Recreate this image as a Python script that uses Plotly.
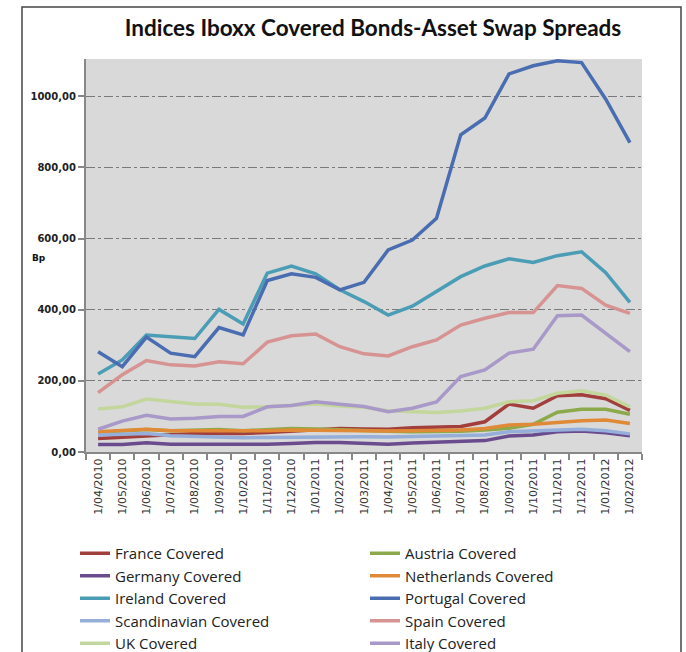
import plotly.graph_objects as go

dates = ["1/04/2010", "1/05/2010", "1/06/2010", "1/07/2010", "1/08/2010", "1/09/2010",
         "1/10/2010", "1/11/2010", "1/12/2010", "1/01/2011", "1/02/2011", "1/03/2011",
         "1/04/2011", "1/05/2011", "1/06/2011", "1/07/2011", "1/08/2011", "1/09/2011",
         "1/10/2011", "1/11/2011", "1/12/2011", "1/01/2012", "1/02/2012"]

france = [38, 42, 46, 50, 52, 53, 52, 55, 58, 62, 66, 65, 64, 68, 70, 72, 85, 135, 123, 158, 161, 150, 117]
austria = [55, 58, 63, 60, 62, 63, 60, 64, 66, 65, 62, 60, 58, 57, 57, 58, 62, 67, 78, 112, 120, 120, 106]
germany = [21, 21, 26, 22, 22, 22, 20, 22, 24, 27, 27, 24, 22, 25, 27, 30, 32, 45, 48, 57, 59, 54, 46]
netherlands = [57, 60, 64, 60, 60, 59, 58, 60, 62, 61, 62, 60, 59, 60, 61, 62, 66, 76, 78, 84, 88, 90, 80]
ireland = [219, 259, 329, 324, 319, 401, 360, 503, 523, 501, 456, 423, 385, 410, 451, 493, 523, 543, 533, 552, 563, 504, 421]
portugal = [282, 240, 323, 278, 268, 350, 329, 482, 501, 491, 456, 477, 568, 596, 657, 892, 939, 1063, 1086, 1100, 1095, 992, 870]
scandinavian = [48, 50, 52, 46, 44, 43, 40, 41, 42, 42, 42, 43, 42, 43, 44, 45, 48, 57, 59, 62, 64, 60, 51]
spain = [167, 217, 257, 245, 242, 254, 248, 309, 327, 332, 296, 276, 270, 296, 315, 357, 376, 392, 392, 468, 460, 413, 390]
uk = [121, 127, 149, 141, 135, 134, 126, 127, 130, 135, 129, 126, 116, 113, 111, 115, 123, 141, 144, 165, 172, 160, 127]
italy = [64, 87, 103, 93, 95, 100, 100, 127, 131, 141, 134, 128, 113, 123, 141, 212, 231, 278, 289, 383, 385, 334, 282]

series_names = ["France Covered", "Austria Covered", "Germany Covered", "Netherlands Covered",
                "Ireland Covered", "Portugal Covered", "Scandinavian Covered", "Spain Covered",
                "UK Covered", "Italy Covered"]
series_values = [france, austria, germany, netherlands, ireland, portugal, scandinavian, spain, uk, italy]
series_colors = ["#A23F3D", "#8CAA4C", "#6A4C8E", "#E08A37", "#4B9DB6", "#4A6DB1",
                 "#95AEDA", "#D79392", "#C3D69B", "#A899C9"]

y_tickvals = [0, 200, 400, 600, 800, 1000]
y_ticktext = ["0,00", "200,00", "400,00", "600,00", "800,00", "1000,00"]

fig = go.Figure()
for i in range(len(series_names)):
    fig.add_trace(go.Scatter(
        x=dates, y=series_values[i], name=series_names[i], mode="lines",
        line=dict(color=series_colors[i], width=3.5),
    ))

W, H = 686, 652
L, R, T, B = 86, 44, 59, 200
pw, ph = W - L - R, H - T - B

def px(x):
    return (x - L) / pw

def py(y):
    return (H - B - y) / ph

fig.update_layout(
    width=W, height=H,
    margin=dict(l=L, r=R, t=T, b=B, autoexpand=False),
    paper_bgcolor="white",
    plot_bgcolor="#D9D9D9",
    title=dict(text="<b>Indices Iboxx Covered Bonds-Asset Swap Spreads</b>",
               font=dict(family="Lato", size=22.5, color="#111"),
               x=373 / W, xanchor="center", y=1 - 28 / H, yanchor="middle"),
    showlegend=True,
    legend=dict(orientation="h", x=px(75), xanchor="left", y=py(537), yanchor="top",
                entrywidth=245, entrywidthmode="pixels",
                font=dict(family="Open Sans", size=15, color="#222"),
                bgcolor="rgba(0,0,0,0)", tracegroupgap=0, itemwidth=30,
                traceorder="normal"),
    xaxis=dict(type="category", tickson="boundaries", ticks="outside", ticklen=6,
               tickcolor="#888", tickwidth=1.5, showgrid=False, showline=True,
               linecolor="#888", linewidth=2, tickangle=-90,
               tickfont=dict(family="DejaVu Sans", size=11, color="#333"),
               range=[-0.5, 22.5], zeroline=False),
    yaxis=dict(range=[0, 1105], tickvals=y_tickvals, ticktext=y_ticktext,
               ticks="outside", ticklen=6, tickcolor="#888", tickwidth=1.5,
               showline=True, linecolor="#888", linewidth=2,
               showgrid=True, gridcolor="#7A7A7A", gridwidth=1.3, griddash="dashdot",
               tickfont=dict(family="DejaVu Sans", size=10, color="#222", weight="bold"),
               zeroline=False),
    shapes=[dict(type="rect", xref="paper", yref="paper",
                 x0=px(22), x1=px(681), y0=py(7), y1=py(700),
                 line=dict(color="#444", width=1.5), layer="below")],
    annotations=[dict(text="<b>Bp</b>", xref="paper", yref="paper",
                      x=px(30), y=py(258), xanchor="left", yanchor="middle",
                      showarrow=False,
                      font=dict(family="DejaVu Sans", size=9, color="#111"))],
)

fig.write_html("out.html")
